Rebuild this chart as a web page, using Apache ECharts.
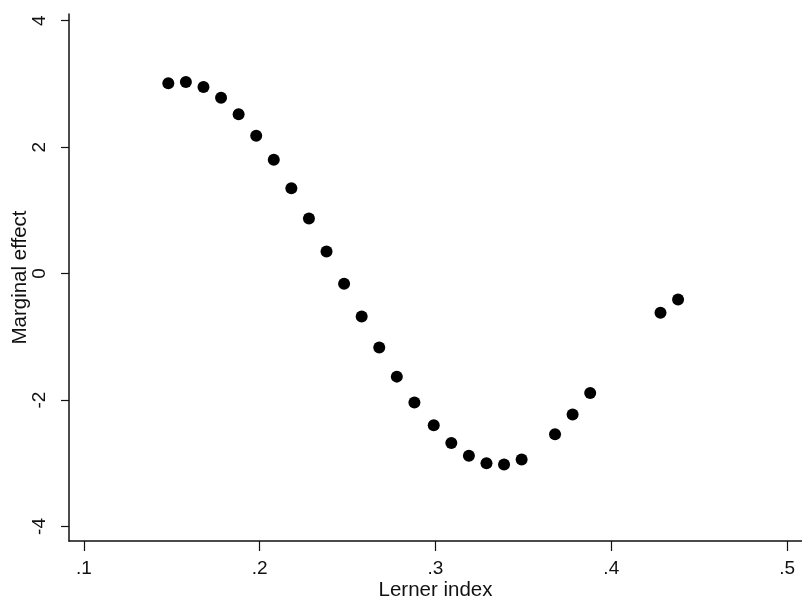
<!DOCTYPE html>
<html>
<head>
<meta charset="utf-8">
<title>Marginal effect vs Lerner index</title>
<script src="https://cdn.jsdelivr.net/npm/echarts@6/dist/echarts.min.js"></script>
<style>
  html, body { margin: 0; padding: 0; background: #fff; }
  #chart { width: 802px; height: 606px; }
</style>
</head>
<body>
<div id="chart"></div>
<script>
// 数据：从图上读取
const lernerIdx = [0.148, 0.158, 0.168, 0.178, 0.188, 0.198, 0.208, 0.218, 0.228, 0.238,
                   0.248, 0.258, 0.268, 0.278, 0.288, 0.299, 0.309, 0.319, 0.329, 0.339,
                   0.349, 0.368, 0.378, 0.388, 0.428, 0.438];
const marginalEffect = [3.01, 3.03, 2.95, 2.78, 2.52, 2.18, 1.80, 1.35, 0.87, 0.35,
                        -0.16, -0.68, -1.17, -1.63, -2.04, -2.40, -2.68, -2.88, -3.00, -3.02,
                        -2.94, -2.54, -2.23, -1.89, -0.62, -0.41];
const xTicks = [0.1, 0.2, 0.3, 0.4, 0.5];
const yTicks = [-4, -2, 0, 2, 4];

const FONT = 'Liberation Sans, Arial, sans-serif';

document.addEventListener('DOMContentLoaded', function() {
    const chart = echarts.init(document.getElementById('chart'));

    const points = lernerIdx.map((x, i) => [x, marginalEffect[i]]);

    const axisCommon = {
        type: 'value',
        axisLine: { show: true, onZero: false, lineStyle: { color: '#111', width: 1.5 } },
        axisTick: { show: true, inside: false, length: 8, lineStyle: { color: '#111', width: 1.2 } },
        splitLine: { show: false },
        nameMoveOverlap: false,
        nameTextStyle: { color: '#111', fontFamily: FONT, fontSize: 20.5 }
    };

    const option = {
        backgroundColor: '#fff',
        animation: false,
        grid: { left: 69, right: 0, top: 14, bottom: 65, outerBoundsMode: 'none', containLabel: false },
        xAxis: Object.assign({}, axisCommon, {
            min: 0.0915,
            max: 0.5085,
            name: 'Lerner index',
            nameLocation: 'middle',
            nameGap: 39,
            axisTick: Object.assign({}, axisCommon.axisTick, { customValues: xTicks, length: 10 }),
            axisLabel: {
                customValues: xTicks,
                margin: 18,
                color: '#111',
                fontFamily: FONT,
                fontSize: 19,
                formatter: v => String(+v.toFixed(1)).replace(/^0/, '')
            }
        }),
        yAxis: Object.assign({}, axisCommon, {
            min: -4.23,
            max: 4.106,
            name: 'Marginal effect',
            nameLocation: 'middle',
            nameGap: 38,
            axisTick: Object.assign({}, axisCommon.axisTick, { customValues: yTicks }),
            axisLabel: {
                customValues: yTicks,
                rotate: 90,
                margin: 20,
                color: '#111',
                fontFamily: FONT,
                fontSize: 19,
                formatter: v => String(Math.round(v))
            }
        }),
        series: [{
            type: 'scatter',
            data: points,
            symbol: 'circle',
            symbolSize: 12,
            itemStyle: { color: '#000', opacity: 1 }
        }]
    };

    chart.setOption(option);
});
</script>
</body>
</html>
